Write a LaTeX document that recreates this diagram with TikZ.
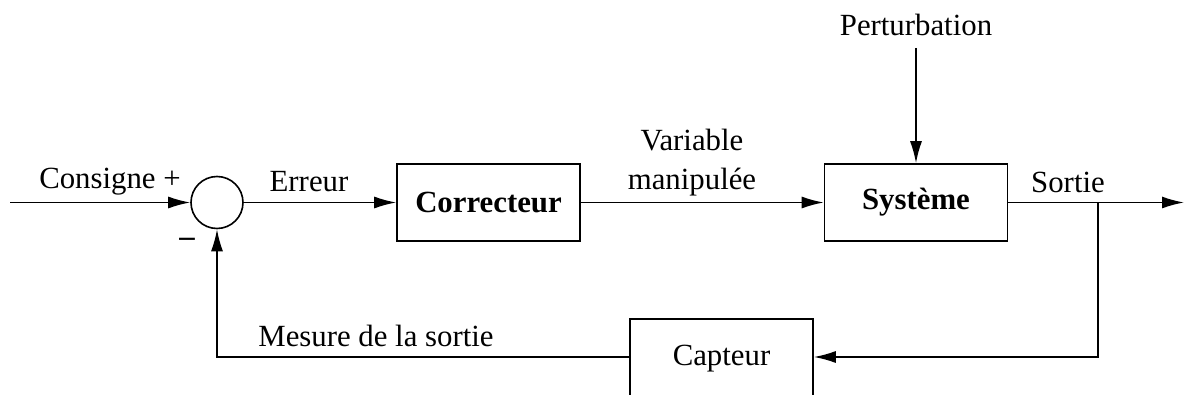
\documentclass[tikz,border=0pt]{standalone}
\usepackage{fontspec}
\setmainfont{Liberation Serif}
\usetikzlibrary{arrows.meta}
\begin{document}
\begin{tikzpicture}[x=0.5pt,y=-0.5pt,
  every node/.style={font=\fontsize{15.4}{19.5}\selectfont},
  line/.style={line width=0.8pt},
  arr/.style={line width=0.8pt,-{Latex[length=11pt,width=6pt]}},
  blk/.style={draw,line width=0.8pt,minimum width=91.5pt,minimum height=38.5pt,inner sep=0pt},
  bblk/.style={blk,font=\fontsize{15.4}{19.5}\selectfont\bfseries},
  sumnode/.style={draw,circle,line width=0.8pt,minimum size=26pt,inner sep=0pt},
  lbl/.style={inner sep=0pt,anchor=center}]
\useasboundingbox (0,0) rectangle (1185,395);
\clip (0,0) rectangle (1185,395);
% nodes
\node[sumnode] (sum) at (217,202.5) {};
\node[bblk] (corr) at (488.5,202.5) {Correcteur};
\node[bblk] (sys) at (916,202.5) {Système};
\node[blk,minimum height=40pt] (cap) at (721.5,359) {Capteur};
\coordinate (in) at (10,202.5);
\coordinate (out) at (1184,202.5);
\coordinate (br) at (1098,202.5);
\coordinate (pt) at (916,48);
% labels
\node[lbl] (lcons) at (110,182) {Consigne +};
\node[lbl] (lminus) at (187,242) {\bfseries –};
\node[lbl] (lerr) at (309,182) {Erreur};
\node[lbl,align=center] (lvar) at (692,163) {Variable\\manipulée};
\node[lbl] (lsort) at (1068,182) {Sortie};
\node[lbl] (lpert) at (916,25) {Perturbation};
\node[lbl] (lmes) at (376,336) {Mesure de la sortie};
% connectors
\draw[arr] (in) -- (sum.west);
\draw[arr] (sum.east) -- (corr.west);
\draw[arr] (corr.east) -- (sys.west);
\draw[arr] (pt) -- (sys.north);
\draw[arr] (sys.east) -- (out);
\draw[arr] (br) |- (cap.east |- 0,357);
\draw[arr] (cap.west |- 0,357) -| (sum.south);
\end{tikzpicture}
\end{document}
